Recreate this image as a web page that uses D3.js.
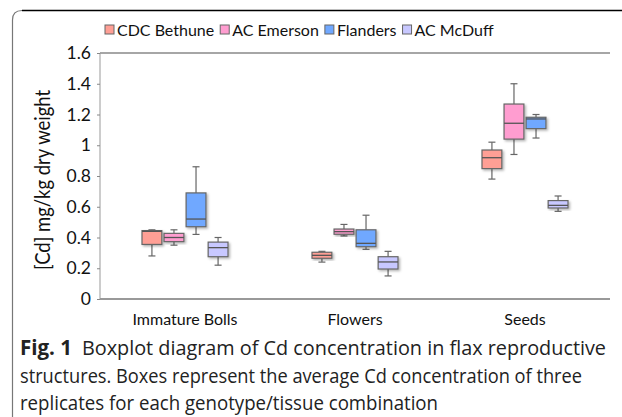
<!DOCTYPE html>
<html>
<head>
<meta charset="utf-8">
<script src="https://cdn.jsdelivr.net/npm/d3@7"></script>
<style>
  body { margin: 0; background: #fff; }
  svg text { fill: #111; }
  .tick text { font-family: Lato, sans-serif; font-size: 17.5px; }
  .caption { font-family: "Open Sans", sans-serif; font-size: 19.5px; fill: #222; }
</style>
</head>
<body>
<svg id="chart" width="622" height="417"></svg>
<script>
  const tissues = ["Immature Bolls", "Flowers", "Seeds"];
  const genotypes = ["CDC Bethune", "AC Emerson", "Flanders", "AC McDuff"];
  const colors = ["#ff9f95", "#ff9dd0", "#70a8ff", "#c8c8ff"];
  const yTicks = [0, 0.2, 0.4, 0.6, 0.8, 1, 1.2, 1.4, 1.6];

  // per tissue, per genotype: [whisker low, q1, median, q3, whisker high]
  const immatureBolls = [
    [0.28, 0.355, 0.44, 0.445, 0.45],
    [0.35, 0.373, 0.40, 0.427, 0.45],
    [0.42, 0.47, 0.52, 0.69, 0.86],
    [0.22, 0.275, 0.334, 0.37, 0.40]
  ];
  const flowers = [
    [0.24, 0.265, 0.284, 0.304, 0.31],
    [0.41, 0.421, 0.438, 0.455, 0.485],
    [0.323, 0.34, 0.362, 0.45, 0.545],
    [0.15, 0.195, 0.241, 0.275, 0.31]
  ];
  const seeds = [
    [0.78, 0.848, 0.919, 0.969, 1.02],
    [0.94, 1.04, 1.143, 1.268, 1.40],
    [1.047, 1.108, 1.171, 1.182, 1.20],
    [0.57, 0.592, 0.609, 0.64, 0.67]
  ];
  const stats = [immatureBolls, flowers, seeds];

  const svg = d3.select("#chart");
  const pLeft = 100, pRight = 610, pTop = 53, pBottom = 299;

  // outer figure frame
  svg.append("path")
    .attr("d", "M12.5,418 L12.5,20 Q12.5,10.5 22,10.5")
    .attr("fill", "none").attr("stroke", "#777").attr("stroke-width", 1.2);
  svg.append("line").attr("x1", 22).attr("x2", 622).attr("y1", 10.5).attr("y2", 10.5)
    .attr("stroke", "#000").attr("stroke-width", 1.4);

  const defs = svg.append("defs");
  const f = defs.append("filter").attr("id", "shadow")
    .attr("x", "-30%").attr("y", "-30%").attr("width", "170%").attr("height", "170%");
  f.append("feDropShadow").attr("dx", 1.5).attr("dy", 1.5).attr("stdDeviation", 1)
    .attr("flood-color", "#000").attr("flood-opacity", 0.3);

  const y = d3.scaleLinear().domain([0, 1.6]).range([pBottom, pTop]);
  const x = d3.scaleBand().domain(tissues).range([pLeft, pRight]);
  const xs = d3.scaleBand().domain(genotypes).range([-43, 43]).paddingInner(0.1);

  // plot frame
  svg.append("line").attr("x1", pLeft).attr("x2", pRight).attr("y1", pTop).attr("y2", pTop)
    .attr("stroke", "#888").attr("stroke-width", 1.5);
  svg.append("line").attr("x1", pRight).attr("x2", pRight).attr("y1", pTop).attr("y2", pBottom)
    .attr("stroke", "#555").attr("stroke-width", 1.5).attr("filter", "url(#shadow)");
  svg.append("line").attr("x1", pLeft).attr("x2", pLeft).attr("y1", pTop).attr("y2", pBottom)
    .attr("stroke", "#999").attr("stroke-width", 1);
  svg.append("line").attr("x1", pLeft).attr("x2", pRight).attr("y1", pBottom).attr("y2", pBottom)
    .attr("stroke", "#999").attr("stroke-width", 2.2);

  const yAxis = svg.append("g").attr("transform", `translate(${pLeft},0)`)
    .call(d3.axisLeft(y).tickValues(yTicks).tickSize(3).tickPadding(6)
      .tickFormat(d => d3.format("~g")(d)));
  yAxis.select(".domain").remove();
  yAxis.selectAll("line").attr("stroke", "#888");

  const xAxis = svg.append("g").attr("transform", `translate(0,${pBottom})`)
    .call(d3.axisBottom(x).tickSize(0).tickPadding(15));
  xAxis.select(".domain").remove();
  xAxis.selectAll("text").style("font-size", "16px");

  svg.append("text")
    .attr("transform", "translate(50,180) rotate(-90)")
    .attr("text-anchor", "middle")
    .attr("textLength", 180).attr("lengthAdjust", "spacingAndGlyphs")
    .style("font-family", "Lato, sans-serif").style("font-size", "21px")
    .text("[Cd] mg/kg dry weight");

  // boxes
  tissues.forEach((t, ti) => {
    const g = svg.append("g").attr("transform", `translate(${x(t) + x.bandwidth() / 2},0)`);
    genotypes.forEach((gn, gi) => {
      const [lo, q1, md, q3, hi] = stats[ti][gi];
      const bx = xs(gn), bw = xs.bandwidth(), cx = bx + bw / 2;
      const bg = g.append("g");
      bg.append("line").attr("x1", cx).attr("x2", cx).attr("y1", y(hi)).attr("y2", y(q3))
        .attr("stroke", "#666").attr("stroke-width", 1.2);
      bg.append("line").attr("x1", cx).attr("x2", cx).attr("y1", y(q1)).attr("y2", y(lo))
        .attr("stroke", "#666").attr("stroke-width", 1.2);
      [hi, lo].forEach(v => {
        bg.append("line").attr("x1", cx - 3.5).attr("x2", cx + 3.5).attr("y1", y(v)).attr("y2", y(v))
          .attr("stroke", "#666").attr("stroke-width", 1.2);
      });
      bg.append("rect").attr("x", bx).attr("width", bw)
        .attr("y", y(q3)).attr("height", y(q1) - y(q3))
        .attr("fill", colors[gi]).attr("stroke", "#666").attr("stroke-width", 1.2)
        .attr("filter", "url(#shadow)");
      bg.append("line").attr("x1", bx).attr("x2", bx + bw).attr("y1", y(md)).attr("y2", y(md))
        .attr("stroke", "#555").attr("stroke-width", 1.3);
    });
  });

  // legend
  const legend = svg.append("g").attr("transform", "translate(105,30)");
  let lx = 0;
  genotypes.forEach((gn, i) => {
    const item = legend.append("g").attr("transform", `translate(${lx},0)`);
    item.append("rect").attr("x", 0).attr("y", -5).attr("width", 9).attr("height", 9)
      .attr("fill", colors[i]).attr("stroke", "#666").attr("stroke-width", 1);
    const t = item.append("text").attr("x", 12).attr("y", 6)
      .style("font-family", "Lato, sans-serif").style("font-size", "16px").text(gn);
    lx += 12 + t.node().getComputedTextLength() + 6;
  });

  // caption
  const cap = svg.append("text").attr("class", "caption");
  const l1 = cap.append("tspan").attr("x", 20).attr("y", 355);
  l1.append("tspan").style("font-weight", "bold").style("font-size", "20.5px").text("Fig. 1");
  l1.append("tspan").text("\u2002Boxplot diagram of Cd concentration in flax reproductive")
    .attr("textLength", 534).attr("lengthAdjust", "spacingAndGlyphs");
  cap.append("tspan").attr("x", 20).attr("y", 383)
    .attr("textLength", 562).attr("lengthAdjust", "spacingAndGlyphs")
    .text("structures. Boxes represent the average Cd concentration of three");
  cap.append("tspan").attr("x", 20).attr("y", 410)
    .attr("textLength", 418).attr("lengthAdjust", "spacingAndGlyphs")
    .text("replicates for each genotype/tissue combination");
</script>
</body>
</html>
